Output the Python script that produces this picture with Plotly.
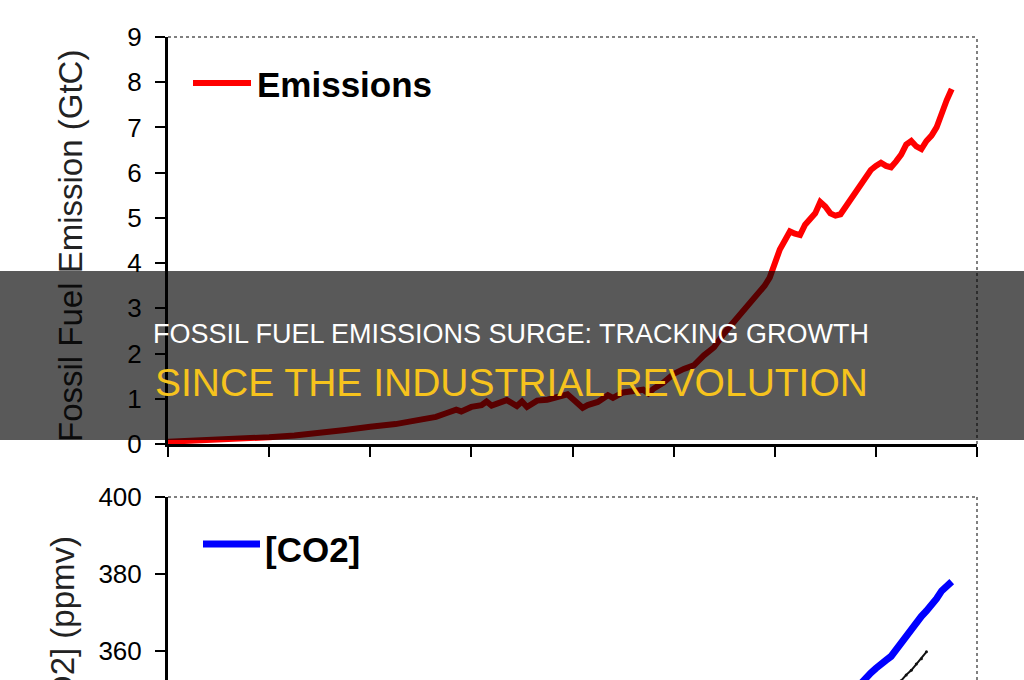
import plotly.graph_objects as go

W, H = 1024, 680

# ---- data ----
em_years = [1850, 1855, 1860, 1865, 1870, 1875, 1880, 1885, 1890, 1893, 1895, 1898,
            1900, 1903, 1905, 1907, 1908, 1910, 1912, 1913, 1914, 1916, 1917, 1919,
            1920, 1921, 1923, 1925, 1927, 1929, 1930, 1932, 1933, 1935, 1937, 1938,
            1940, 1942, 1944, 1945, 1946, 1948, 1950, 1952, 1954, 1956, 1958, 1960,
            1962, 1964, 1966, 1968, 1969, 1970, 1971, 1972, 1973, 1974, 1975, 1976,
            1977, 1978, 1979, 1980, 1981, 1982, 1983, 1984, 1985, 1986, 1987, 1988,
            1989, 1990, 1991, 1992, 1993, 1994, 1995, 1996, 1997, 1998, 1999, 2000,
            2001, 2002, 2003, 2004, 2005]
em_values = [0.05, 0.07, 0.09, 0.12, 0.15, 0.19, 0.24, 0.31, 0.38, 0.40, 0.44, 0.50,
             0.54, 0.60, 0.68, 0.76, 0.72, 0.82, 0.86, 0.94, 0.85, 0.95, 0.97, 0.84,
             0.94, 0.82, 0.96, 0.98, 1.03, 1.10, 1.00, 0.80, 0.86, 0.93, 1.08, 1.02,
             1.14, 1.18, 1.20, 1.12, 1.22, 1.36, 1.55, 1.66, 1.74, 1.96, 2.14, 2.45,
             2.70, 2.95, 3.25, 3.50, 3.68, 4.00, 4.30, 4.50, 4.70, 4.65, 4.62, 4.85,
             5.00, 5.10, 5.35, 5.25, 5.10, 5.05, 5.08, 5.25, 5.40, 5.55, 5.70, 5.90,
             6.06, 6.15, 6.22, 6.15, 6.12, 6.25, 6.40, 6.62, 6.70, 6.58, 6.52, 6.70,
             6.82, 7.00, 7.35, 7.60, 7.85]

co2_years = [1987, 1988, 1989, 1990, 1991, 1992, 1993, 1994, 1995, 1996, 1997, 1998,
             1999, 2000, 2001, 2002, 2003, 2004, 2005]
co2_values = [351.5, 353.2, 354.3, 355.5, 356.8, 357.6, 358.6, 360.4, 362.0, 363.6,
              365.3, 367.4, 369.0, 370.4, 371.9, 373.6, 375.6, 376.9, 378.0]

other_years = [1995, 1996, 1997, 1998, 1999, 2000]
other_values = [352.3, 353.8, 355.0, 356.6, 358.0, 359.8]

em_ticks = [0, 1, 2, 3, 4, 5, 6, 7, 8, 9]
co2_ticks = [360, 380, 400]

title_line1 = "FOSSIL FUEL EMISSIONS SURGE: TRACKING GROWTH"
title_line2 = "SINCE THE INDUSTRIAL REVOLUTION"
em_axis_title = "Fossil Fuel Emission (GtC)"
co2_axis_title = "[CO2] (ppmv)"


def px(x):
    return x / W


def py(y):
    return 1 - y / H


FONT = "Liberation Sans, Arial, sans-serif"

fig = go.Figure()
fig.add_trace(go.Scatter(x=em_years, y=em_values, mode="lines",
                         line=dict(color="#ff0000", width=6),
                         xaxis="x", yaxis="y", showlegend=False))
fig.add_trace(go.Scatter(x=co2_years, y=co2_values, mode="lines",
                         line=dict(color="#0000ff", width=7),
                         xaxis="x2", yaxis="y2", showlegend=False))
fig.add_trace(go.Scatter(x=other_years, y=other_values, mode="lines+markers",
                         line=dict(color="#111111", width=2),
                         marker=dict(color="#111111", size=3),
                         xaxis="x2", yaxis="y2", showlegend=False))

xdom = [px(168), px(977)]
axis_common = dict(showgrid=False, zeroline=False, linecolor="black", linewidth=3,
                   ticks="outside", ticklen=10, tickwidth=2, tickcolor="black",
                   automargin=False,
                   tickfont=dict(family=FONT, size=26, color="black"))

fig.update_layout(
    width=W, height=H,
    margin=dict(l=0, r=0, t=0, b=0, pad=0),
    paper_bgcolor="white", plot_bgcolor="white",
    showlegend=False,
    xaxis=dict(domain=xdom, range=[1850, 2010], tick0=1850, dtick=20,
               showticklabels=False, showline=True, anchor="y", **axis_common),
    yaxis=dict(domain=[py(444), py(37)], range=[0, 9], tickvals=em_ticks,
               showline=True, anchor="x", ticklabelstandoff=8, **axis_common),
    xaxis2=dict(domain=xdom, range=[1850, 2010], visible=False, anchor="y2",
                automargin=False),
    yaxis2=dict(domain=[0, py(497)], range=[352.47, 400], tickvals=co2_ticks,
                showline=True, anchor="x2", ticklabelstandoff=8, **axis_common),
)

shapes = []
# dotted top / right frame lines
for ya in ["y", "y2"]:
    shapes.append(dict(type="line", xref="x domain", yref=ya + " domain",
                       x0=0, x1=1, y0=1, y1=1,
                       line=dict(color="#808080", width=2, dash="dot")))
    shapes.append(dict(type="line", xref="x domain", yref=ya + " domain",
                       x0=1, x1=1, y0=0, y1=1,
                       line=dict(color="#808080", width=2, dash="dot")))
# legend samples
shapes.append(dict(type="line", xref="paper", yref="paper",
                   x0=px(193), x1=px(251), y0=py(83), y1=py(83),
                   line=dict(color="#ff0000", width=6)))
shapes.append(dict(type="line", xref="paper", yref="paper",
                   x0=px(203), x1=px(260), y0=py(544), y1=py(544),
                   line=dict(color="#0000ff", width=7)))
fig.update_layout(shapes=shapes)

ann = []
ann.append(dict(text=em_axis_title, textangle=-90, xref="paper", yref="paper",
                x=px(70), y=py(246), xanchor="center", yanchor="middle",
                showarrow=False, font=dict(family=FONT, size=33, color="#222222")))
ann.append(dict(text=co2_axis_title, textangle=-90, xref="paper", yref="paper",
                x=px(62), y=py(534), xanchor="center", yanchor="top",
                showarrow=False, font=dict(family=FONT, size=33, color="#222222")))
ann.append(dict(text="Emissions", xref="paper", yref="paper",
                x=px(255), y=py(84), xanchor="left", yanchor="middle",
                showarrow=False, font=dict(family=FONT, size=35, color="black", weight="bold")))
ann.append(dict(text="[CO2]", xref="paper", yref="paper",
                x=px(263), y=py(549), xanchor="left", yanchor="middle",
                showarrow=False, font=dict(family=FONT, size=35, color="black", weight="bold")))
# dark overlay band (drawn above everything before it)
ann.append(dict(text=" ", xref="paper", yref="paper",
                x=0.5, y=py((271 + 440) / 2), xanchor="center", yanchor="middle",
                width=W, height=440 - 271, bgcolor="rgba(0,0,0,0.65)",
                borderpad=0, borderwidth=0, showarrow=False,
                font=dict(family=FONT, size=10)))
ann.append(dict(text=title_line1, xref="paper", yref="paper",
                x=px(511), y=py(334), xanchor="center", yanchor="middle",
                showarrow=False, font=dict(family=FONT, size=27, color="white")))
ann.append(dict(text=title_line2, xref="paper", yref="paper",
                x=px(511), y=py(382), xanchor="center", yanchor="middle",
                showarrow=False, font=dict(family=FONT, size=39, color="#f6c31d")))
fig.update_layout(annotations=ann)

fig.write_html("out.html")
